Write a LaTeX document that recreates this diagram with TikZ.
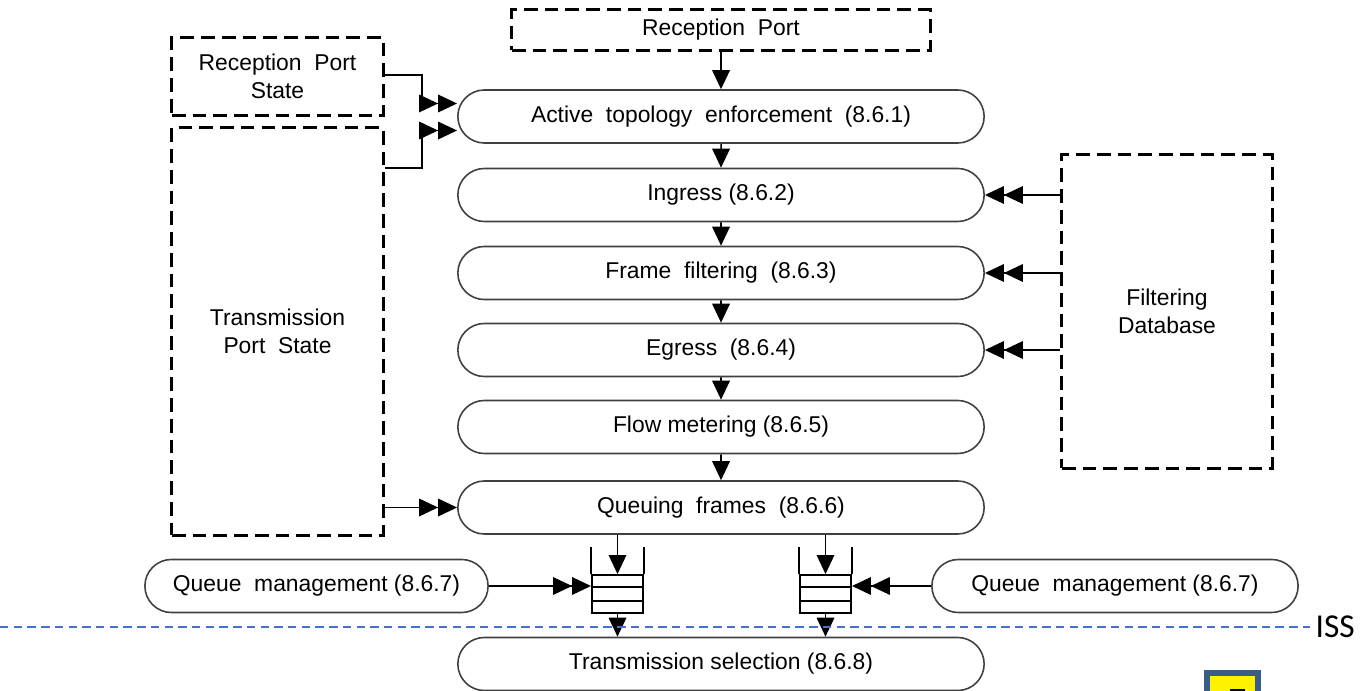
\documentclass[tikz,border=0pt]{standalone}
\usepackage{fontspec}
\setmainfont{Liberation Sans}
\newfontfamily\issfont{Carlito}
\usetikzlibrary{arrows.meta,shapes.misc}
\definecolor{issblu}{HTML}{4472C4}
\definecolor{bordoblu}{HTML}{385D8A}
\tikzset{
  tratt/.style={draw,line width=0.85pt,dash pattern=on 3.9pt off 2pt,align=center,inner sep=0pt},
  blocco/.style={draw=black!75,line width=0.45pt,rounded rectangle,inner sep=0pt,minimum height=0.53cm},
  freccia/.style={line width=0.45pt,-{Triangle[length=5.4pt,width=5pt]}},
  doppia/.style={line width=0.45pt,-{Triangle[length=5.4pt,width=5pt]Triangle[length=5.4pt,width=5pt]}},
  coda/.style={draw,line width=0.55pt,inner sep=0pt,minimum width=0.51cm,minimum height=0.38cm}
}
\begin{document}
\begin{tikzpicture}[x=0.01cm,y=-0.01cm,font=\fontsize{6.5}{7.8}\selectfont]
        \useasboundingbox (0,0) rectangle (1372,691);
        %scatole tratteggiate
        \node[tratt,minimum width=4.18cm,minimum height=0.40cm] (rp) at (721,30) {Reception~~Port};
        \node[tratt,minimum width=2.11cm,minimum height=0.77cm] (rps) at (277.5,76.5) {Reception~~Port\\State};
        \node[tratt,minimum width=2.11cm,minimum height=4.07cm] (tps) at (277.5,331.5) {Transmission\\Port~~State};
        \node[tratt,minimum width=2.10cm,minimum height=3.13cm] (fdb) at (1167,311.5) {Filtering\\Database};

        %blocchi centrali
        \node[blocco,minimum width=5.26cm] (ate) at (721,116.5) {Active~~topology~~enforcement~~(8.6.1)};
        \node[blocco,minimum width=5.26cm] (ing) at (721,195) {Ingress (8.6.2)};
        \node[blocco,minimum width=5.26cm] (ff) at (721,273) {Frame~~filtering~~(8.6.3)};
        \node[blocco,minimum width=5.26cm] (egr) at (721,350) {Egress~~(8.6.4)};
        \node[blocco,minimum width=5.26cm] (fm) at (721,427) {Flow metering (8.6.5)};
        \node[blocco,minimum width=5.26cm] (qf) at (721,507.5) {Queuing~~frames~~(8.6.6)};
        \node[blocco,minimum width=5.26cm] (ts) at (721,664) {Transmission selection (8.6.8)};
        \node[blocco,minimum width=3.43cm] (qml) at (316.5,586) {Queue~~management (8.6.7)};
        \node[blocco,minimum width=3.66cm] (qmr) at (1115,586) {Queue~~management (8.6.7)};

        %disegno code
        \foreach \q/\xq in {ql/617.5,qr/825.5}{
          \node[coda] (\q) at (\xq,594) {};
          \draw[line width=0.55pt] (\q.north west) -- ++(0,-27) (\q.north east) -- ++(0,-27);
          \draw[line width=0.55pt] (\q.west |- 0,587) -- (\q.east |- 0,587)
                                   (\q.west |- 0,601) -- (\q.east |- 0,601);
        }

        %frecce verticali
        \draw[freccia] (rp) -- (ate);
        \draw[freccia] (ate) -- (ing);
        \draw[freccia] (ing) -- (ff);
        \draw[freccia] (ff) -- (egr);
        \draw[freccia] (egr) -- (fm);
        \draw[freccia] (fm) -- (qf);
        \draw[freccia] (ql |- qf.south) -- (ql.north);
        \draw[freccia] (qr |- qf.south) -- (qr.north);
        \draw[freccia] (ql.south) -- (ql |- ts.north);
        \draw[freccia] (qr.south) -- (qr |- ts.north);

        %frecce doppie da sinistra
        \draw[doppia] (rps.east |- 0,75) -- (422,75) |- ([yshift=0.13cm]ate.west);
        \draw[doppia] (tps.east |- 0,168) -- (422,168) |- ([yshift=-0.14cm]ate.west);
        \draw[doppia] (tps.east |- qf.west) -- (qf.west);
        \draw[doppia] (qml.east) -- (qml.east -| ql.west);

        %frecce doppie da destra
        \draw[doppia] (fdb.west |- ing.east) -- (ing.east);
        \draw[doppia] (fdb.west |- ff.east) -- (ff.east);
        \draw[doppia] (fdb.west |- egr.east) -- (egr.east);
        \draw[doppia] (qmr.west) -- (qmr.west -| qr.east);

        %linea ISS
        \node[anchor=west,inner sep=0pt,font=\issfont\fontsize{9.5}{11}\selectfont] (iss) at (1315,627) {ISS};
        \draw[issblu,line width=0.55pt,dash pattern=on 2.4pt off 1.5pt,shorten >=1.4pt] (0,627) -- (iss.west);

        %riquadro giallo
        \draw[bordoblu,fill=yellow,line width=1.7pt] (1207,673) rectangle (1258,705);
        \fill (1230,689) rectangle (1245,695);
\end{tikzpicture}
\end{document}
